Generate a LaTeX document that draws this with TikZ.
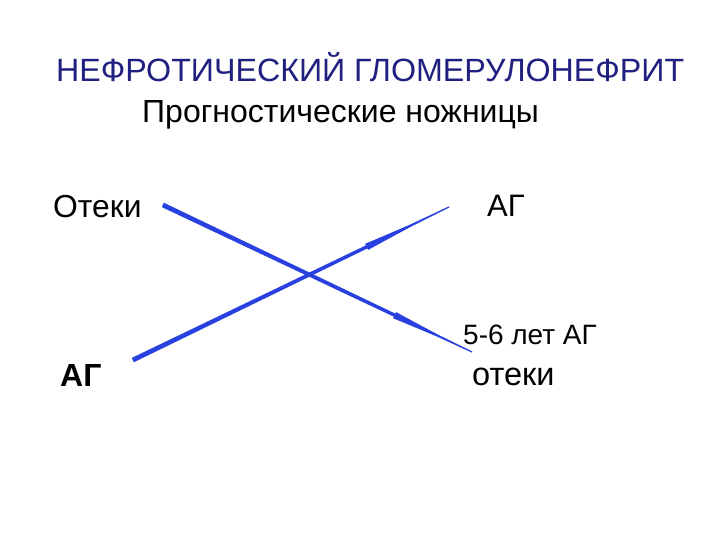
\documentclass[tikz,border=0pt]{standalone}
\usepackage{fontspec}
\setmainfont{Liberation Sans}
\usetikzlibrary{calc}
\definecolor{navy}{RGB}{32,32,128}
\definecolor{lineblue}{RGB}{40,64,224}
\tikzset{
  lbl/.style={inner sep=0pt, anchor=base west, text=black},
  taper/.style={fill=lineblue, draw=lineblue, line width=0.3pt, line join=round},
}
\begin{document}
\begin{tikzpicture}[x=1pt,y=-1pt]
\useasboundingbox (0,0) rectangle (720,540);
\fill[white] (0,0) rectangle (720,540);
% texts
\node[lbl, text=navy, font=\fontsize{32.2}{36}\selectfont] (title) at (56,82) {НЕФРОТИЧЕСКИЙ ГЛОМЕРУЛОНЕФРИТ};
\node[lbl, font=\fontsize{32}{36}\selectfont] (sub) at (142,123) {Прогностические ножницы};
\node[lbl, font=\fontsize{31.8}{36}\selectfont] (oteki1) at (53,218) {Отеки};
\node[lbl, font=\fontsize{31}{34}\selectfont] (ag1) at (487,217) {АГ};
\node[lbl, font=\fontsize{28}{32}\selectfont] (years) at (463,344) {5-6 лет АГ};
\node[lbl, font=\bfseries\fontsize{32}{36}\selectfont] (ag2) at (60,386) {АГ};
\node[lbl, font=\fontsize{32.5}{36}\selectfont] (oteki2) at (472,385) {отеки};
% line endpoints
\coordinate (A1) at (163,205);
\coordinate (B1) at (472,352);
\coordinate (A2) at (133,360);
\coordinate (B2) at (449,207);
% line 1 (Отеки -> lower right)
\coordinate (M1a) at ($(A1)!0.75!(B1)$);
\coordinate (M1b) at ($(A1)!0.88!(B1)$);
\fill[taper] ($(A1)!2.2pt!90:(B1)$) -- ($(M1a)!1.5pt!90:(B1)$) -- ($(B1)!0.4pt!-90:(A1)$) -- ($(B1)!0.4pt!90:(A1)$) -- ($(M1a)!1.5pt!-90:(B1)$) -- ($(A1)!2.2pt!-90:(B1)$) -- cycle;
\fill[taper] ($(M1a)!3.2pt!90:(B1)$) -- ($(M1b)!0.9pt!-90:(A1)$) -- ($(M1b)!0.9pt!90:(A1)$) -- ($(M1a)!3.2pt!-90:(B1)$) -- cycle;
% line 2 (АГ -> upper right)
\coordinate (M2a) at ($(A2)!0.74!(B2)$);
\coordinate (M2b) at ($(A2)!0.87!(B2)$);
\fill[taper] ($(A2)!2.2pt!90:(B2)$) -- ($(M2a)!1.5pt!90:(B2)$) -- ($(B2)!0.4pt!-90:(A2)$) -- ($(B2)!0.4pt!90:(A2)$) -- ($(M2a)!1.5pt!-90:(B2)$) -- ($(A2)!2.2pt!-90:(B2)$) -- cycle;
\fill[taper] ($(M2a)!3.2pt!90:(B2)$) -- ($(M2b)!0.9pt!-90:(A2)$) -- ($(M2b)!0.9pt!90:(A2)$) -- ($(M2a)!3.2pt!-90:(B2)$) -- cycle;
\end{tikzpicture}
\end{document}
